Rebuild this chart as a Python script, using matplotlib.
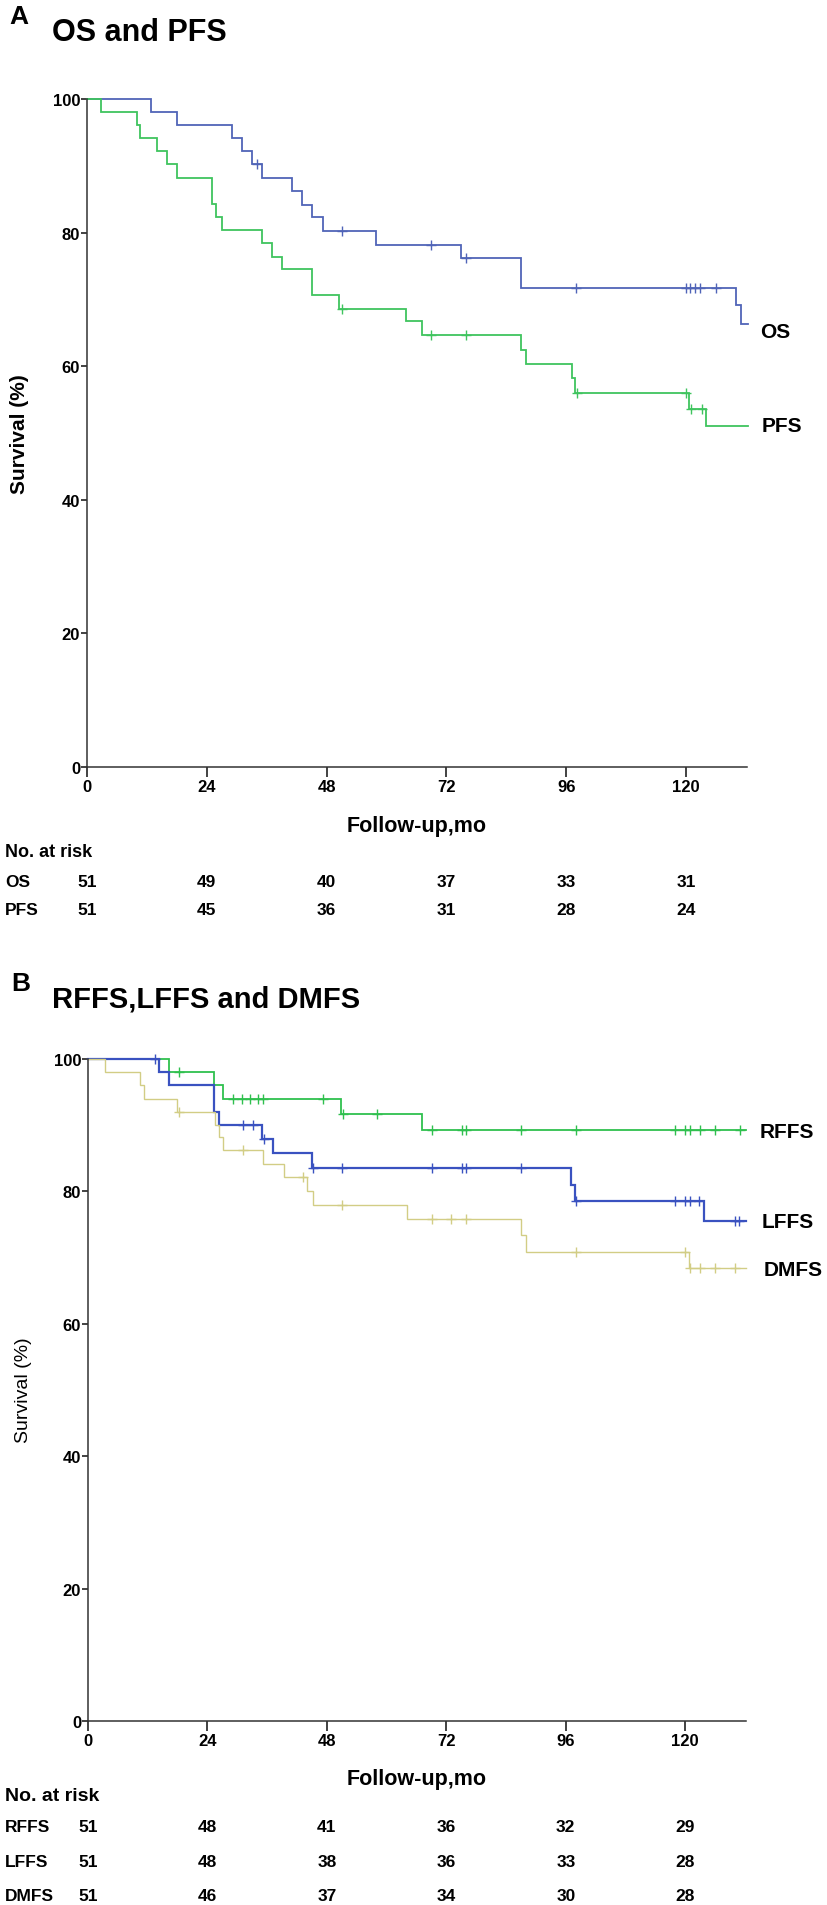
import matplotlib.pyplot as plt
import matplotlib.transforms as mtransforms
import numpy as np

plt.rcParams['font.family'] = ['Liberation Sans', 'DejaVu Sans']

# ---- data (months, survival %) ----
os_t = [0, 12.8, 18, 29, 31, 33, 35, 41, 43, 45, 47.2, 57.9, 75, 87, 130, 130.9]
os_s = [100, 98.0, 96.1, 94.1, 92.2, 90.2, 88.2, 86.2, 84.2, 82.3, 80.3, 78.2, 76.2, 71.7, 69.1, 66.3]
os_cens = [34, 51, 69, 76, 98, 120, 120.8, 121.8, 122.8, 126]

pfs_t = [0, 2.9, 10, 10.6, 14, 16, 18, 25.1, 25.8, 27.1, 35, 37, 39, 45, 50.5,
         63.8, 67.1, 87, 88, 97.1, 97.8, 120.6, 124]
pfs_s = [100, 98.0, 96.1, 94.1, 92.2, 90.2, 88.2, 84.3, 82.4, 80.4, 78.4, 76.4, 74.5, 70.6, 68.6,
         66.7, 64.6, 62.5, 60.3, 58.2, 56.0, 53.6, 51.1]
pfs_cens = [51, 69, 76, 98.2, 120, 121, 123.2]

rffs_t = [0, 16.2, 25.4, 27.2, 50.8, 67.2]
rffs_s = [100, 98.0, 96.0, 94.0, 91.7, 89.3]
rffs_cens = [18.2, 29.2, 30.9, 32.6, 34.2, 35.2, 47.3, 51.2, 58.1, 69.1, 75.1, 76, 87, 98,
             118, 120, 121, 123, 126, 131]

lffs_t = [0, 14.2, 16.2, 25.4, 26.3, 35.0, 37.2, 45.0, 97.0, 97.9, 123.7]
lffs_s = [100, 98.0, 96.0, 92.0, 90.0, 87.9, 85.8, 83.6, 81.0, 78.5, 75.5]
lffs_cens = [13.5, 31.2, 33.2, 35.3, 45.2, 51.1, 69.1, 75.1, 76, 87, 98.1,
             118, 120, 121, 122.8, 130, 130.8]

dmfs_t = [0, 3.4, 10.5, 11.2, 17.9, 25.6, 26.4, 27.2, 35.2, 39.4, 44.0, 45.3, 64.1, 86.9, 88.0, 120.8]
dmfs_s = [100, 98.0, 96.0, 94.0, 92.0, 90.1, 88.2, 86.2, 84.2, 82.1, 80.0, 77.9, 75.8, 73.4, 70.9, 68.4]
dmfs_cens = [18.3, 31.2, 43.2, 51.1, 69.1, 73, 76, 98, 120, 121, 123, 126, 130]

risk_times = [0, 24, 48, 72, 96, 120]
risk_a = {'OS': [51, 49, 40, 37, 33, 31], 'PFS': [51, 45, 36, 31, 28, 24]}
risk_b = {'RFFS': [51, 48, 41, 36, 32, 29], 'LFFS': [51, 48, 38, 36, 33, 28],
          'DMFS': [51, 46, 37, 34, 30, 28]}

W, H = 827, 1906
fig = plt.figure(figsize=(W / 100, H / 100), dpi=100)


def box(l, t, r, b):
    return [l / W, 1 - b / H, (r - l) / W, (b - t) / H]


def ftext(x, y, s, **kw):
    fig.text(x / W, 1 - y / H, s, **kw)


def km(ax, t, s, cens, tend, color, lw):
    tt = list(t) + [tend]
    ss = list(s) + [s[-1]]
    ax.step(tt, ss, where='post', color=color, lw=lw, solid_joinstyle='miter', clip_on=False)
    idx = np.searchsorted(t, cens, side='right') - 1
    ax.plot(cens, np.asarray(s)[idx], ls='none', marker='+', ms=6.5, mew=1.0,
            color=color, clip_on=False)


def setup(ax, ylab_bold):
    for sp in ['top', 'right']:
        ax.spines[sp].set_visible(False)
    for sp in ['left', 'bottom']:
        ax.spines[sp].set_color('#333333')
        ax.spines[sp].set_linewidth(1.1)
    ax.set_xlim(0, 132.2)
    ax.set_ylim(0, 100)
    ax.set_xticks(risk_times)
    ax.set_yticks([0, 20, 40, 60, 80, 100])
    ax.tick_params(axis='x', length=7, width=1.3, pad=2, labelsize=12, colors='#333333',
                   labelcolor='black')
    ax.tick_params(axis='y', length=4, width=1.3, pad=1, labelsize=12, colors='#333333',
                   labelcolor='black')
    for lab in ax.get_xticklabels() + ax.get_yticklabels():
        lab.set_fontweight('bold')


# ---------------- Panel A ----------------
axA = fig.add_axes(box(87, 100, 747, 768))
setup(axA, True)
km(axA, os_t, os_s, os_cens, 132.4, '#5064b8', 1.3)
km(axA, pfs_t, pfs_s, pfs_cens, 132.4, '#3fc45e', 1.3)

ftext(9, 17, 'A', fontsize=19, fontweight='bold', va='center')
ftext(52, 33, 'OS and PFS', fontsize=22, fontweight='bold', va='center')
ftext(20, 434, 'Survival (%)', fontsize=15, fontweight='bold', rotation=90, ha='center', va='center')
ftext(417, 827, 'Follow-up,mo', fontsize=15.5, fontweight='bold', ha='center', va='center')
ftext(760, 333, 'OS', fontsize=15, fontweight='bold', va='center')
ftext(762, 427, 'PFS', fontsize=15, fontweight='bold', va='center')

ftext(5, 853, 'No. at risk', fontsize=13, fontweight='bold', va='center')
trA = mtransforms.blended_transform_factory(axA.transData, fig.transFigure)
for row_y, (name, vals) in zip([883, 911], risk_a.items()):
    ftext(5, row_y, name, fontsize=12.5, fontweight='bold', va='center')
    for tx, v in zip(risk_times, vals):
        axA.text(tx, 1 - row_y / H, str(v), transform=trA, ha='center', va='center',
                 fontsize=12.5, fontweight='bold')

# ---------------- Panel B ----------------
axB = fig.add_axes(box(88, 1060, 746, 1722))
setup(axB, False)
km(axB, rffs_t, rffs_s, rffs_cens, 132.1, '#2fc04e', 1.3)
km(axB, lffs_t, lffs_s, lffs_cens, 132.1, '#3a52c0', 1.6)
km(axB, dmfs_t, dmfs_s, dmfs_cens, 132.1, '#d2cd85', 1.0)

ftext(11, 984, 'B', fontsize=19, fontweight='bold', va='center')
ftext(52, 1000, 'RFFS,LFFS and DMFS', fontsize=21, fontweight='bold', va='center')
ftext(24, 1390, 'Survival (%)', fontsize=14, rotation=90, ha='center', va='center')
ftext(417, 1780, 'Follow-up,mo', fontsize=15.5, fontweight='bold', ha='center', va='center')
ftext(760, 1133, 'RFFS', fontsize=15, fontweight='bold', va='center')
ftext(762, 1223, 'LFFS', fontsize=15, fontweight='bold', va='center')
ftext(764, 1270, 'DMFS', fontsize=15, fontweight='bold', va='center')

ftext(5, 1797, 'No. at risk', fontsize=14, fontweight='bold', va='center')
trB = mtransforms.blended_transform_factory(axB.transData, fig.transFigure)
for row_y, (name, vals) in zip([1828, 1863, 1897], risk_b.items()):
    ftext(5, row_y, name, fontsize=12.5, fontweight='bold', va='center')
    for tx, v in zip(risk_times, vals):
        axB.text(tx, 1 - row_y / H, str(v), transform=trB, ha='center', va='center',
                 fontsize=12.5, fontweight='bold')

fig.savefig('out.png', dpi=100, facecolor='white')
